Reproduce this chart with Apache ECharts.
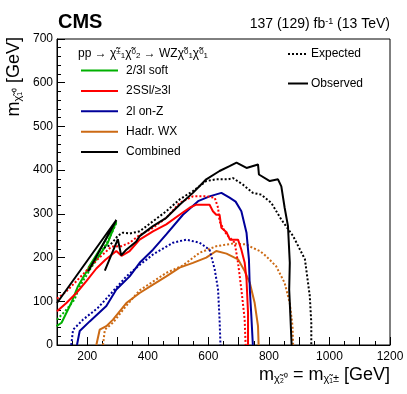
<!DOCTYPE html>
<html>
<head>
<meta charset="utf-8">
<script src="https://cdn.jsdelivr.net/npm/echarts@6.0.0/dist/echarts.min.js"></script>
<style>
  html, body { margin: 0; padding: 0; background: #fff; }
  #chart { width: 407px; height: 394px; }
</style>
</head>
<body>
<div id="chart"></div>
<script>
// contour points: [m(chi2) = m(chi1+-), m(chi1_0)] in GeV
const softObs = [[98, 43], [115, 51], [147, 96], [169, 134], [202, 173], [235, 200], [268, 234], [296, 283], [250, 228], [203, 176]];
const softExp = [[100, 58], [130, 80], [158, 104], [175, 134], [213, 177], [240, 205], [270, 240], [298, 282]];

const ssObs = [[100, 77], [131, 96], [164, 119], [197, 146], [230, 175], [260, 195], [296, 215], [313, 204], [340, 215], [373, 241], [417, 260], [461, 276], [505, 298], [538, 314], [560, 321], [604, 321], [615, 306], [626, 298], [637, 298], [643, 268], [660, 258], [671, 241], [698, 241], [709, 218], [720, 188], [726, 150], [731, 74], [731, 0]];
const ssExp = [[100, 106], [130, 122], [164, 146], [200, 172], [240, 200], [280, 225], [313, 226], [340, 234], [368, 249], [417, 268], [461, 291], [505, 325], [549, 340], [593, 340], [621, 337], [632, 314], [637, 283], [654, 260], [660, 253], [687, 234], [698, 188], [709, 127], [720, 58], [723, 0]];

const onzObs = [[166, 0], [175, 32], [208, 54], [263, 89], [296, 127], [340, 157], [373, 188], [417, 218], [461, 253], [516, 298], [566, 329], [604, 340], [643, 348], [670, 337], [690, 328], [709, 306], [726, 257], [734, 196], [737, 127], [742, 66], [747, 0]];
const onzExp = [[147, 0], [153, 35], [186, 58], [235, 85], [280, 119], [329, 157], [373, 183], [417, 207], [483, 234], [527, 241], [571, 234], [604, 218], [621, 173], [632, 127], [637, 58], [640, 0]];

const wxObs = [[230, 0], [241, 35], [263, 43], [285, 58], [329, 96], [373, 119], [417, 138], [461, 157], [505, 177], [549, 188], [593, 200], [626, 215], [660, 209], [698, 196], [720, 169], [737, 142], [753, 96], [764, 43], [766, 0]];
const wxExp = [[252, 0], [258, 35], [285, 51], [329, 90], [373, 125], [417, 145], [461, 165], [516, 182], [571, 211], [626, 226], [681, 232], [726, 230], [747, 222], [770, 215], [791, 203], [824, 180], [852, 142], [869, 96], [878, 43], [880, 0]];

const combObsA = [[100, 96], [296, 286], [203, 168]];
const combObsB = [[258, 170], [301, 242], [312, 205], [329, 218], [362, 237], [373, 249], [417, 272], [461, 291], [505, 321], [549, 348], [593, 379], [637, 398], [670, 409], [693, 417], [726, 405], [764, 413], [767, 390], [803, 375], [830, 379], [841, 363], [852, 314], [863, 272], [869, 188], [867, 127], [871, 66], [875, 0]];
const combExp = [[255, 222], [274, 228], [291, 241], [301, 250], [318, 257], [340, 255], [373, 260], [417, 283], [461, 306], [505, 333], [549, 352], [593, 375], [626, 379], [665, 379], [681, 382], [714, 367], [747, 348], [775, 344], [808, 325], [841, 287], [880, 249], [919, 196], [935, 112], [940, 51], [940, 0]];

const legendNames = ["2/3l soft", "2SSl/\u22653l", "2l on-Z", "Hadr. WX", "Combined"];
const colors = ["#00b000", "#ff0000", "#00009a", "#cc6a14", "#000000"];

const chi = "\u03c7\u0303";
const dotted = [2, 2];

function contour(data, color, dash) {
  return {
    type: "line",
    data: data,
    showSymbol: false,
    silent: true,
    clip: true,
    lineStyle: { color: color, width: 2, type: dash ? dotted : "solid", cap: "butt" },
  };
}

const series = [
  contour(softExp, colors[0], true),
  contour(softObs, colors[0], false),
  contour(wxExp, colors[3], true),
  contour(wxObs, colors[3], false),
  contour(onzExp, colors[2], true),
  contour(onzObs, colors[2], false),
  contour(ssExp, colors[1], true),
  contour(ssObs, colors[1], false),
  contour(combExp, colors[4], true),
  contour(combObsA, colors[4], false),
  contour(combObsB, colors[4], false),
];

const sub = { fontSize: 11, verticalAlign: "bottom", fontFamily: "Liberation Sans" };
const sp = { fontSize: 8, verticalAlign: "top", fontFamily: "Liberation Sans" };
const sb = { fontSize: 8, verticalAlign: "bottom", fontFamily: "Liberation Sans" };

const graphics = [
  { type: "text", x: 58, y: 32, style: { text: "CMS", font: "bold 20px 'Liberation Sans'", fill: "#000", textVerticalAlign: "bottom" } },
  { type: "text", x: 390, y: 31, style: { text: "137 (129) fb{sp|-1} (13 TeV)", fontSize: 14, fontFamily: "Liberation Sans", fill: "#000", align: "right", verticalAlign: "bottom", rich: { sp: { fontSize: 9, verticalAlign: "top" } } } },
  {
    type: "text", x: 390, y: 375,
    style: {
      text: "m{s|" + chi + "\u2082\u2070} = m{s|" + chi + "\u2081\u00b1} [GeV]",
      fontSize: 18, fontFamily: "Liberation Sans", fill: "#000", align: "right", verticalAlign: "middle",
      rich: { s: sub },
    },
  },
  {
    type: "text", x: 14, y: 37, rotation: Math.PI / 2,
    style: {
      text: "m{s|" + chi + "\u2081\u2070} [GeV]",
      fontSize: 18, fontFamily: "Liberation Sans", fill: "#000", align: "right", verticalAlign: "middle",
      rich: { s: sub },
    },
  },
  {
    type: "text", x: 78, y: 54,
    style: {
      text: "pp \u2192 " + chi + "{sp|\u00b1}{sb|1}" + chi + "{sp|0}{sb|2} \u2192 WZ" + chi + "{sp|0}{sb|1}" + chi + "{sp|0}{sb|1}",
      fontSize: 12, fontFamily: "Liberation Sans", fill: "#000", verticalAlign: "middle",
      rich: { sp: sp, sb: sb },
    },
  },
];

legendNames.forEach((name, i) => {
  const y = 70.5 + i * 20.4;
  graphics.push({ type: "line", shape: { x1: 81, y1: y, x2: 118, y2: y }, style: { stroke: colors[i], lineWidth: 2 } });
  graphics.push({ type: "text", x: 126, y: y, style: { text: name, fontSize: 12, fontFamily: "Liberation Sans", fill: "#000", verticalAlign: "middle" } });
});

graphics.push({ type: "line", shape: { x1: 288, y1: 54, x2: 308, y2: 54 }, style: { stroke: "#000", lineWidth: 2, lineDash: dotted } });
graphics.push({ type: "text", x: 311, y: 54, style: { text: "Expected", fontSize: 12, fontFamily: "Liberation Sans", fill: "#000", verticalAlign: "middle" } });
graphics.push({ type: "line", shape: { x1: 288, y1: 83.5, x2: 308, y2: 83.5 }, style: { stroke: "#000", lineWidth: 2 } });
graphics.push({ type: "text", x: 311, y: 83.5, style: { text: "Observed", fontSize: 12, fontFamily: "Liberation Sans", fill: "#000", verticalAlign: "middle" } });

const chart = echarts.init(document.getElementById("chart"), null, { renderer: "canvas" });
chart.setOption({
  animation: false,
  backgroundColor: "#fff",
  textStyle: { fontFamily: "Liberation Sans" },
  grid: { left: 57, right: 17, top: 39, bottom: 49, show: true, borderColor: "#000", borderWidth: 1, backgroundColor: "transparent" },
  xAxis: {
    type: "value",
    min: 100,
    max: 1200,
    interval: 100,
    axisLine: { show: true, onZero: false, lineStyle: { color: "#000", width: 1 } },
    axisTick: { show: true, inside: true, length: 8, lineStyle: { color: "#000" } },
    minorTick: { show: true, splitNumber: 2, length: 4, lineStyle: { color: "#000" } },
    splitLine: { show: false },
    axisLabel: {
      color: "#000", fontSize: 12, margin: 6,
      formatter: (v) => (v % 200 === 0 ? String(v) : ""),
    },
  },
  yAxis: {
    type: "value",
    min: 0,
    max: 700,
    interval: 100,
    axisLine: { show: true, onZero: false, lineStyle: { color: "#000", width: 1 } },
    axisTick: { show: true, inside: true, length: 8, lineStyle: { color: "#000" } },
    minorTick: { show: true, splitNumber: 5, length: 4, lineStyle: { color: "#000" } },
    splitLine: { show: false },
    axisLabel: { color: "#000", fontSize: 12, margin: 4 },
  },
  series: series,
  graphic: graphics,
});
</script>
</body>
</html>
